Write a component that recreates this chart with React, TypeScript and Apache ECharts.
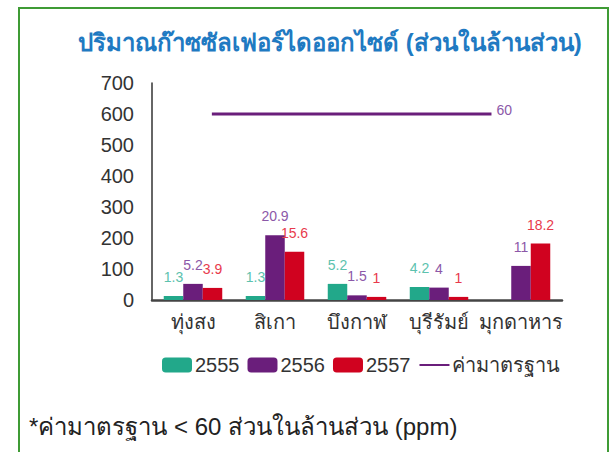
import React, { useEffect, useRef } from "react";
import * as echarts from "echarts";

const categories = ["ทุ่งสง", "สิเกา", "บึงกาฬ", "บุรีรัมย์", "มุกดาหาร"];
const seriesNames = ["2555", "2556", "2557"];
// ppm values as labelled on the chart (null = no bar)
const values2555: (number | null)[] = [1.3, 1.3, 5.2, 4.2, null];
const values2556: (number | null)[] = [5.2, 20.9, 1.5, 4, 11];
const values2557: (number | null)[] = [3.9, 15.6, 1, 1, 18.2];
const standardValue = 60;
const standardName = "ค่ามาตรฐาน";
// extent of the standard line along the category axis (in category units)
const standardStart = 0.73;
const standardEnd = 4.14;
const yTicks = [0, 100, 200, 300, 400, 500, 600, 700];
const SCALE = 10; // bars drawn at 10x the ppm value on the reference's axis

const title = "ปริมาณก๊าซซัลเฟอร์ไดออกไซด์ (ส่วนในล้านส่วน)";
const footnote = "*ค่ามาตรฐาน < 60 ส่วนในล้านส่วน (ppm)";

const FONT = "'Liberation Sans', Arial, 'Noto Sans', sans-serif";
const colors = ["#22A88A", "#6A1E7B", "#D0021F"];
const labelColors = ["#5cc2ae", "#8c58a8", "#e83a4c"];

export default function App() {
  const ref = useRef<HTMLDivElement>(null);
  useEffect(() => {
    if (!ref.current) return;
    const chart = echarts.init(ref.current, undefined, { renderer: "svg" });
    const raw = [values2555, values2556, values2557];
    const barSeries = seriesNames.map((name, i) => ({
      name,
      type: "bar",
      xAxisIndex: 0,
      yAxisIndex: 0,
      barWidth: 19.5,
      barGap: "0%",
      itemStyle: { color: colors[i] },
      data: raw[i].map((v) => (v == null ? null : { value: v * SCALE, raw: v })),
      label: {
        show: true,
        position: "top",
        distance: 12,
        color: labelColors[i],
        fontSize: 14,
        fontFamily: FONT,
        formatter: (p: any) => (p.data && p.data.raw != null ? String(p.data.raw) : ""),
      },
    }));
    chart.setOption({
      animation: false,
      textStyle: { fontFamily: FONT },
      grid: { left: 152, right: 48, top: 83, bottom: 152, containLabel: false },
      xAxis: [
        {
          type: "category",
          data: categories,
          axisLine: { lineStyle: { color: "#444", width: 2.5 } },
          axisTick: { show: false },
          axisLabel: { interval: 0, fontSize: 20, color: "#333", margin: 12, fontFamily: FONT },
        },
        { type: "value", min: 0, max: categories.length, show: false },
      ],
      yAxis: {
        type: "value",
        min: yTicks[0],
        max: yTicks[yTicks.length - 1],
        interval: 100,
        axisLine: { show: true, lineStyle: { color: "#333", width: 1.5 } },
        axisTick: { show: false },
        splitLine: { show: false },
        axisLabel: { fontSize: 20, color: "#333", margin: 18, fontFamily: FONT },
      },
      legend: {
        left: 157,
        top: 350,
        itemWidth: 30,
        itemHeight: 15,
        itemGap: 8,
        textStyle: { fontSize: 20, color: "#333", fontFamily: FONT, padding: [0, 0, 0, -2] },
        data: [
          ...seriesNames,
          { name: standardName, itemStyle: { color: "transparent", borderWidth: 0, opacity: 0 } },
        ],
      },
      series: [
        ...barSeries,
        {
          name: standardName,
          type: "line",
          xAxisIndex: 1,
          yAxisIndex: 0,
          symbol: "none",
          lineStyle: { color: colors[1], width: 3 },
          itemStyle: { color: colors[1] },
          endLabel: {
            show: true,
            offset: [-3, -4],
            formatter: String(standardValue),
            color: "#8c58a8",
            fontSize: 14,
            fontFamily: FONT,
          },
          data: [
            [standardStart, standardValue * SCALE],
            [standardEnd, standardValue * SCALE],
          ],
        },
      ],
      graphic: [
        {
          type: "rect",
          shape: { x: 19, y: 8, width: 589, height: 460 },
          style: { fill: "none", stroke: "#3f9b35", lineWidth: 2 },
          silent: true,
        },
        {
          type: "text",
          x: 78,
          y: 42,
          style: {
            text: title,
            font: `bold 24px ${FONT}`,
            fill: "#1f7ac2",
            textVerticalAlign: "middle",
          },
        },
        {
          type: "text",
          x: 29,
          y: 426,
          style: {
            text: footnote,
            font: `24px ${FONT}`,
            fill: "#222",
            textVerticalAlign: "middle",
          },
        },
      ],
    });
    return () => chart.dispose();
  }, []);
  return (
    <div
      ref={ref}
      style={{ position: "absolute", left: 0, top: 0, width: 610, height: 452, background: "#fff" }}
    />
  );
}
